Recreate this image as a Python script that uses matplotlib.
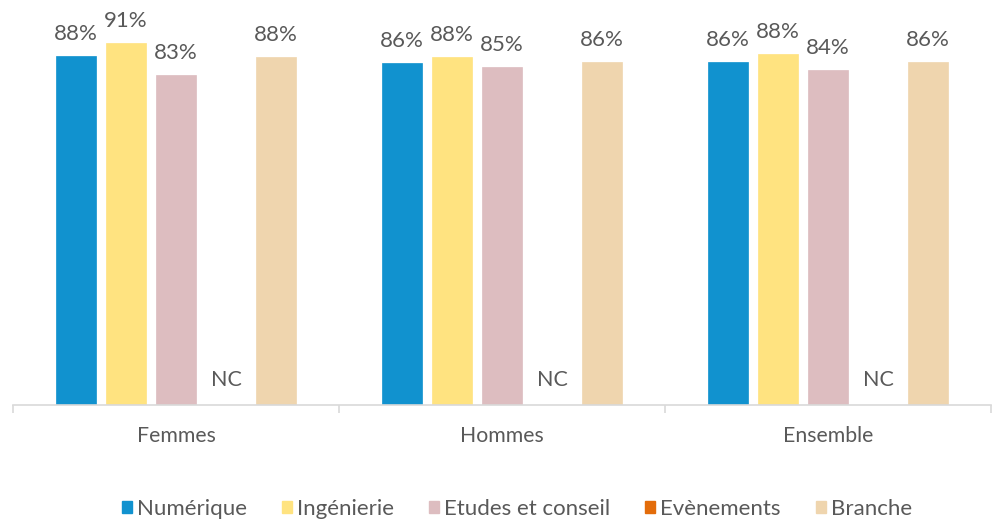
import matplotlib
matplotlib.use("Agg")
import matplotlib.pyplot as plt
from matplotlib.patches import Patch
import numpy as np

plt.rcParams['font.family'] = ['Lato', 'DejaVu Sans']

categories = ["Femmes", "Hommes", "Ensemble"]
series = ["Numérique", "Ingénierie", "Etudes et conseil", "Evènements", "Branche"]
colors = ["#1192CF", "#FFE380", "#DDBDC0", "#E36C0A", "#EFD5AE"]
numerique = [0.880, 0.862, 0.864]
ingenierie = [0.913, 0.876, 0.884]
etudes = [0.832, 0.852, 0.844]
evenements = [None, None, None]  # NC
branche = [0.877, 0.864, 0.864]
values = [numerique, ingenierie, etudes, evenements, branche]

fig = plt.figure(figsize=(9.92, 5.21), dpi=100)
ax = fig.add_axes([13/992, 116/521, 978/992, 397/521])

x = np.arange(len(categories))
step = 50/326
width = 40/326
txt = "#595959"
for i, (name, vals, col) in enumerate(zip(series, values, colors)):
    pos = x + (i - 2) * step
    for xp, v in zip(pos, vals):
        if v is None:
            ax.text(xp, 0.063, "NC", ha="center", va="center", fontsize=15.5, color=txt)
        else:
            ax.bar(xp, v, width=width, color=col, edgecolor=col, linewidth=0.5)
            ax.annotate(f"{round(v*100):.0f}%", (xp, v), xytext=(0, 8.5), textcoords="offset points",
                        ha="center", va="bottom", fontsize=16, color=txt)

ax.set_xlim(-0.5, 2.5)
ax.set_ylim(0, 1)
ax.set_yticks([])
for s in ["top", "right", "left"]:
    ax.spines[s].set_visible(False)
ax.spines["bottom"].set_color("#d9d9d9")
ax.spines["bottom"].set_linewidth(1.2)
ax.set_xticks([-0.5, 0.5, 1.5, 2.5])
ax.set_xticklabels([])
ax.tick_params(axis="x", which="major", length=6, width=1.2, color="#d9d9d9")
ax.set_xticks(x, minor=True)
ax.set_xticklabels(categories, minor=True, fontsize=15.3, color=txt)
ax.tick_params(axis="x", which="minor", length=0, pad=15)

handles = [Patch(facecolor=c, edgecolor=c) for c in colors]
fig.legend(handles, series, loc="center", bbox_to_anchor=(517/992, 1 - 509/521), ncol=5,
           frameon=False, fontsize=16, handlelength=0.45, handleheight=0.45,
           handletextpad=0.22, columnspacing=1.58, labelcolor=txt)

fig.savefig("out.png", dpi=100)
